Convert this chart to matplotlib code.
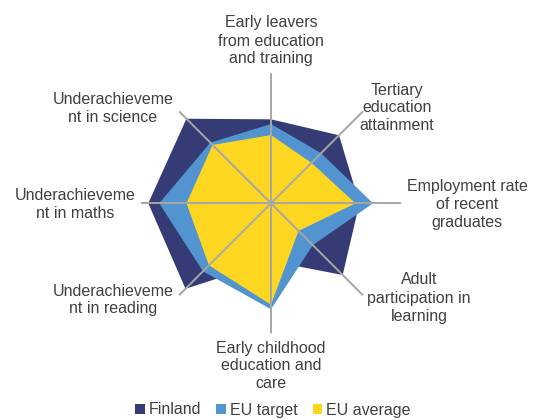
import numpy as np
import matplotlib
matplotlib.use("Agg")
import matplotlib.pyplot as plt
from matplotlib.patches import Patch

plt.rcParams['font.family'] = ['Liberation Sans', 'DejaVu Sans']

categories = ["Early leavers\nfrom education\nand training",
              "Tertiary\neducation\nattainment",
              "Employment rate\nof recent\ngraduates",
              "Adult\nparticipation in\nlearning",
              "Early childhood\neducation and\ncare",
              "Underachieveme\nnt in reading",
              "Underachieveme\nnt in maths",
              "Underachieveme\nnt in science"]
finland = [0.646, 0.74, 0.68, 0.78, 0.445, 0.93, 0.944, 0.92]
eu_target = [0.61, 0.545, 0.785, 0.455, 0.815, 0.74, 0.86, 0.66]
eu_average = [0.525, 0.44, 0.65, 0.30, 0.78, 0.675, 0.65, 0.635]
series_names = ["Finland", "EU target", "EU average"]
colors = ["#343B75", "#5294D0", "#FDD622"]

W, H = 533, 420
fig = plt.figure(figsize=(W / 100, H / 100), dpi=100)
cx, cy, R = 271, 203.3, 130
ax = fig.add_axes([(cx - R) / W, (H - cy - R) / H, 2 * R / W, 2 * R / H], projection='polar')
ax.set_theta_zero_location('N')
ax.set_theta_direction(-1)

n = len(categories)
angles = np.arange(n) * 2 * np.pi / n
for vals, col in zip([finland, eu_target, eu_average], colors):
    a = np.concatenate([angles, angles[:1]])
    v = np.concatenate([vals, vals[:1]])
    ax.fill(a, v, color=col, lw=0, zorder=2)

ax.set_ylim(0, 1)
ax.set_xticks(angles)
ax.set_xticklabels([])
ax.set_yticks([])
ax.xaxis.grid(True, color='#A6A6A6', lw=1.4)
ax.set_axisbelow(False)
for gl in ax.xaxis.get_gridlines():
    gl.set_zorder(5)
ax.spines['polar'].set_visible(False)
ax.patch.set_visible(False)

# label positions (pixels)
label_pos = [(271, 41), (397, 108), (467, 204), (419, 298),
             (271, 366), (113, 300), (75, 204), (113, 108)]
for lab, (px, py) in zip(categories, label_pos):
    fig.text(px / W, 1 - py / H, lab, ha='center', va='center',
             fontsize=11.5, color='#404040', linespacing=1.25)

handles = [Patch(facecolor=c, edgecolor='none') for c in colors]
fig.legend(handles, series_names, loc='center', bbox_to_anchor=(273 / W, 1 - 410 / H),
           ncol=3, frameon=False, fontsize=11.5, handlelength=0.6, handleheight=0.6,
           handletextpad=0.25, columnspacing=0.95, labelcolor='#404040')

fig.savefig("out.png", dpi=100)
